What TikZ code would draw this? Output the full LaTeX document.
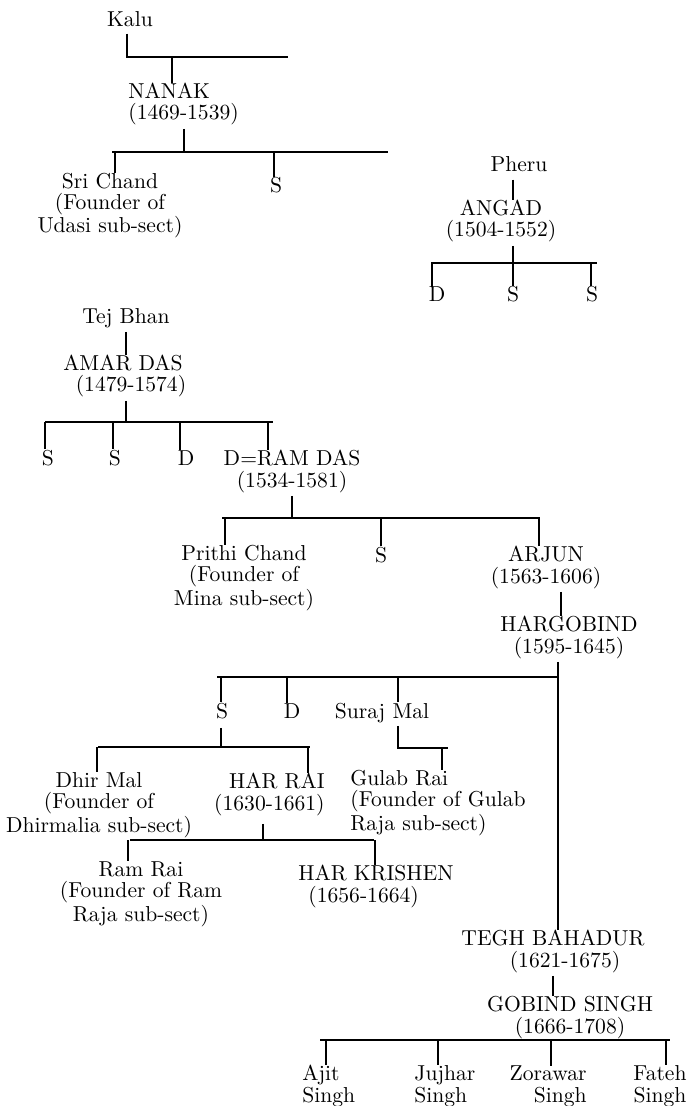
\documentclass[tikz,border=0pt]{standalone}
\usepackage{tikz}

\begin{document}
\begin{tikzpicture}[
    x=0.5pt, y=-0.5pt,
    person/.style={anchor=base, inner sep=0pt, align=center,
                   font=\fontsize{10.8}{10.6}\selectfont},
    link/.style={line width=0.6pt},
    fromparent/.style={link, shorten <=1.5pt}
]
\useasboundingbox (0,0) rectangle (690,1106);

% Nanak (base = last line)
\node[person] (kalu) at (130,27) {Kalu};
\node[person, anchor=base west, align=left] (nanak) at (128,120) {NANAK\\(1469-1539)};
\node[person] (srichand) at (110,233) {Sri Chand\\(Founder of\\Udasi sub-sect)};
\node[person] (nanakS) at (276,193) {S};
\coordinate (kalubarW) at (127,57);
\coordinate (kalubarE) at (288,57);
\coordinate (kalubar1) at (172,57);
\draw[fromparent] (kalu.south -| kalubarW) ++(0,3) -- (kalubarW) -- (kalubarE);
\draw[link] (kalubar1) -- (kalubar1 |- nanak.north);
\coordinate (nanakbarW) at (112,152);
\coordinate (nanakbarE) at (388,152);
\coordinate (nanakbarP) at (184,152);
\coordinate (nanakbar1) at (115,152);
\coordinate (nanakbar2) at (274,152);
\draw[link] (nanakbarW) -- (nanakbarE);
\draw[fromparent] (nanak.south -| nanakbarP) -- (nanakbarP);
\draw[link] (nanakbar1) -- (nanakbar1 |- srichand.north);
\draw[link] (nanakbar2) -- (nanakbar2 |- nanakS.north);

% Angad
\node[person] (pheru) at (519,172) {Pheru};
\node[person] (angad) at (501,237) {ANGAD\\(1504-1552)};
\node[person] (angadD) at (437,302) {D};
\node[person] (angadS1) at (513,302) {S};
\node[person] (angadS2) at (592,302) {S};
\coordinate (angadbarW) at (431,263);
\coordinate (angadbarE) at (597,263);
\coordinate (angadbarP) at (513,263);
\coordinate (angadbar1) at (432,263);
\coordinate (angadbar2) at (591,263);
\draw[fromparent] (pheru.south -| angadbarP) ++(0,4) -- (angad.north -| angadbarP);
\draw[fromparent] (angad.south -| angadbarP) -- (angadbarP);
\draw[link] (angadbarW) -- (angadbarE);
\draw[link] (angadbar1) -- (angadbar1 |- angadD.north);
\draw[link] (angadbarP) -- (angadbarP |- angadS1.north);
\draw[link] (angadbar2) -- (angadbar2 |- angadS2.north);

% Amar Das
\node[person] (tejbhan) at (126,324) {Tej Bhan};
\node[person] (amardas) at (123,392) {AMAR DAS\\\hspace*{8pt}(1479-1574)};
\node[person] (amarS1) at (48,465) {S};
\node[person] (amarS2) at (115,465) {S};
\node[person] (amarD) at (186,465) {D};
\node[person] (ramdas) at (292,487) {D=RAM DAS\\(1534-1581)};
\coordinate (amarbarW) at (45,422);
\coordinate (amarbarE) at (273,422);
\coordinate (amarbarP) at (126,422);
\coordinate (amarbar1) at (45,422);
\coordinate (amarbar2) at (113,422);
\coordinate (amarbar3) at (180,422);
\coordinate (amarbar4) at (268,422);
\draw[fromparent] (tejbhan.south -| amarbarP) -- (amardas.north -| amarbarP);
\draw[fromparent] (amardas.south -| amarbarP) -- (amarbarP);
\draw[link] (amarbarW) -- (amarbarE);
\draw[link] (amarbar1) -- (amarbar1 |- amarS1.north);
\draw[link] (amarbar2) -- (amarbar2 |- amarS2.north);
\draw[link] (amarbar3) -- (amarbar3 |- amarD.north);
\draw[link] (amarbar4) -- (amarbar4 |- ramdas.north);

% Ram Das
\node[person] (prithi) at (244,605) {Prithi Chand\\(Founder of\\Mina sub-sect)};
\node[person] (ramdasS) at (381,562) {S};
\node[person] (arjun) at (546,583) {ARJUN\\(1563-1606)};
\node[person] (hargobind) at (569,653) {HARGOBIND\\(1595-1645)};
\coordinate (ramdasbarW) at (222,518);
\coordinate (ramdasbarE) at (540,518);
\coordinate (ramdasbarP) at (292,518);
\coordinate (ramdasbar1) at (225,518);
\coordinate (ramdasbar2) at (381,518);
\coordinate (ramdasbar3) at (539,518);
\coordinate (arjunline) at (561,600);
\draw[fromparent] (ramdas.south -| ramdasbarP) -- (ramdasbarP);
\draw[link] (ramdasbarW) -- (ramdasbarE);
\draw[link] (ramdasbar1) -- (ramdasbar1 |- prithi.north);
\draw[link] (ramdasbar2) -- (ramdasbar2 |- ramdasS.north);
\draw[link] (ramdasbar3) -- (ramdasbar3 |- arjun.north);
\draw[fromparent] (arjun.south -| arjunline) -- (hargobind.north -| arjunline);

% Hargobind
\node[person] (hgS) at (222,718) {S};
\node[person] (hgD) at (292,718) {D};
\node[person] (surajmal) at (382,718) {Suraj Mal};
\node[person] (dhirmal) at (99,832) {Dhir Mal\\(Founder of\\Dhirmalia sub-sect)};
\node[person, anchor=base east, align=right] (harrai) at (325,810) {HAR RAI\\(1630-1661)};
\node[person, anchor=base west, align=left] (gulabrai) at (350,830) {Gulab Rai\\(Founder of Gulab\\Raja sub-sect)};
\node[person] (ramrai) at (141,921) {Ram Rai\\(Founder of Ram\\Raja sub-sect)};
\node[person, anchor=base west, align=left] (harkrishen) at (298,902) {HAR KRISHEN\\\hspace*{5pt}(1656-1664)};
\node[person] (teghbahadur) at (553,967) {TEGH BAHADUR\\\hspace*{12pt}(1621-1675)};
\coordinate (hgbarW) at (217,677);
\coordinate (hgbarE) at (558,677);
\coordinate (hgbar1) at (221,677);
\coordinate (hgbar2) at (287,677);
\coordinate (hgbar3) at (398,677);
\draw[fromparent] (hargobind.south -| hgbarE) -- (teghbahadur.north -| hgbarE);
\draw[link] (hgbarW) -- (hgbarE);
\draw[link] (hgbar1) -- (hgbar1 |- hgS.north);
\draw[link] (hgbar2) -- (hgbar2 |- hgD.north);
\draw[link] (hgbar3) -- (hgbar3 |- surajmal.north);
\coordinate (sbarW) at (98,747);
\coordinate (sbarE) at (310,747);
\coordinate (sbarP) at (221,747);
\coordinate (sbar1) at (97,747);
\coordinate (sbar2) at (308,747);
\draw[fromparent] (hgS.south -| sbarP) ++(0,6) -- (sbarP);
\draw[link] (sbarW) -- (sbarE);
\draw[link] (sbar1) -- (sbar1 |- dhirmal.north);
\draw[link] (sbar2) -- (sbar2 |- harrai.north);
\coordinate (surajbarW) at (398,748);
\coordinate (surajbarE) at (448,748);
\coordinate (surajbar1) at (442,748);
\draw[fromparent] (surajmal.south -| surajbarW) -- (surajbarW) -- (surajbarE);
\draw[link] (surajbar1) -- (surajbar1 |- gulabrai.north);
\coordinate (hrbarW) at (130,840);
\coordinate (hrbarE) at (374,840);
\coordinate (hrbarP) at (263,840);
\coordinate (hrbar1) at (128,840);
\coordinate (hrbar2) at (375,840);
\draw[fromparent] (harrai.south -| hrbarP) ++(0,5) -- (hrbarP);
\draw[link] (hrbarW) -- (hrbarE);
\draw[link] (hrbar1) -- (hrbar1 |- ramrai.north);
\draw[link] (hrbar2) -- (hrbar2 |- harkrishen.north);

% Gobind Singh
\node[person] (gobindsingh) at (570,1033) {GOBIND SINGH\\(1666-1708)};
\node[person, anchor=base west, align=left] (ajit) at (302,1102) {Ajit\\Singh};
\node[person, anchor=base west, align=left] (jujhar) at (414,1102) {Jujhar\\Singh};
\node[person, anchor=base east, align=right] (zorawar) at (587,1102) {Zorawar\\Singh};
\node[person] (fateh) at (660,1102) {Fateh\\Singh};
\coordinate (teghline) at (553,980);
\draw[fromparent] (teghbahadur.south -| teghline) -- (gobindsingh.north -| teghline);
\coordinate (gbarW) at (320,1040);
\coordinate (gbarE) at (670,1040);
\coordinate (gbar1) at (326,1040);
\coordinate (gbar2) at (438,1040);
\coordinate (gbar3) at (551,1040);
\coordinate (gbar4) at (666,1040);
\draw[link] (gbarW) -- (gbarE);
\draw[link] (gbar1) -- (gbar1 |- ajit.north);
\draw[link] (gbar2) -- (gbar2 |- jujhar.north);
\draw[link] (gbar3) -- (gbar3 |- zorawar.north);
\draw[link] (gbar4) -- (gbar4 |- fateh.north);
\end{tikzpicture}
\end{document}
